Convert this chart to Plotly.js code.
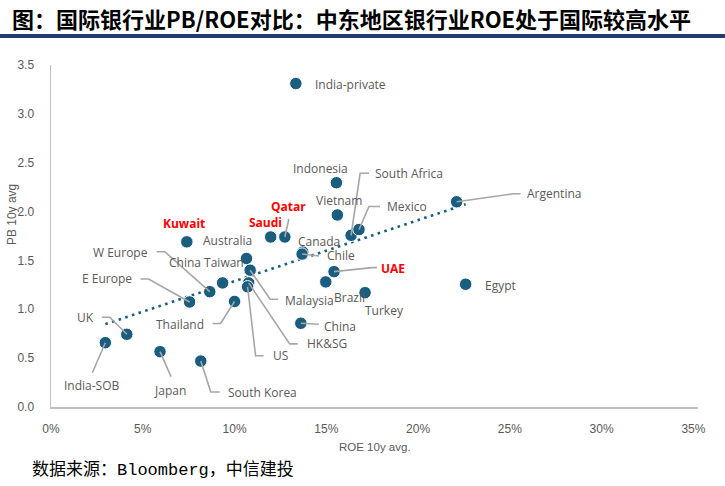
<!DOCTYPE html>
<html>
<head>
<meta charset="utf-8">
<script src="https://cdn.plot.ly/plotly-3.0.1.min.js"></script>
<style>
  html, body { margin: 0; padding: 0; background: #fff; }
  #chart { width: 725px; height: 486px; }
</style>
</head>
<body>
<div id="chart"></div>
<script>
// Bank sector 10-year averages: ROE (%) vs price-to-book
const countries = ['India-private','Indonesia','Vietnam','South Africa','Mexico','Argentina',
  'Qatar','Saudi','Kuwait','Australia','Canada','Chile','UAE','Brazil','Turkey','Egypt',
  'China','China Taiwan','Malaysia','HK&SG','US','W Europe','E Europe','Thailand','UK',
  'India-SOB','Japan','South Korea'];
const roe = [13.34, 15.55, 15.60, 16.35, 16.78, 22.10,
  12.74, 11.97, 7.40, 10.65, 13.72, 13.68, 15.42, 14.97, 17.11, 22.59,
  13.61, 9.35, 10.85, 10.77, 10.71, 8.65, 7.55, 10.00, 4.13,
  2.96, 5.94, 8.16];
const pb = [3.31, 2.295, 1.965, 1.757, 1.816, 2.10,
  1.74, 1.74, 1.69, 1.52, 1.585, 1.565, 1.385, 1.28, 1.17, 1.256,
  0.857, 1.27, 1.40, 1.27, 1.23, 1.18, 1.075, 1.08, 0.744,
  0.658, 0.566, 0.47];
const highlighted = ['Kuwait', 'Saudi', 'Qatar', 'UAE'];
const xTicks = [0, 5, 10, 15, 20, 25, 30, 35];
const xTickText = ['0%', '5%', '10%', '15%', '20%', '25%', '30%', '35%'];
const yTicks = [0, 0.5, 1, 1.5, 2, 2.5, 3, 3.5];

// Label placement: offsets in screen pixels from the marker (y grows downward),
// with optional elbow leader lines.
const placement = {
  'India-private': {dx: 17, dy: 1, anchor: 'left'},
  'Indonesia':     {dx: -16, dy: -14, anchor: 'center'},
  'Vietnam':       {dx: 2, dy: -14, anchor: 'center'},
  'South Africa':  {dx: 22, dy: -62, anchor: 'left', leader: [[0,0],[9,-62],[18,-62]]},
  'Mexico':        {dx: 26, dy: -23, anchor: 'left', leader: [[0,0],[10,-23],[21,-23]]},
  'Argentina':     {dx: 68, dy: -8, anchor: 'left', leader: [[0,0],[57,-8],[64,-8]]},
  'Qatar':         {dx: 4, dy: -30, anchor: 'center', leader: [[0,0],[4,-18]]},
  'Saudi':         {dx: -5, dy: -14, anchor: 'center'},
  'Kuwait':        {dx: -3, dy: -18, anchor: 'center'},
  'Australia':     {dx: -19, dy: -18, anchor: 'center'},
  'Canada':        {dx: 16, dy: -11, anchor: 'center'},
  'Chile':         {dx: 39, dy: 1, anchor: 'center', leader: [[0,0],[17,2]]},
  'UAE':           {dx: 45, dy: -3, anchor: 'left', leader: [[0,0],[38,-4],[43,-4]]},
  'Brazil':        {dx: 24, dy: 16, anchor: 'center'},
  'Turkey':        {dx: 19, dy: 18, anchor: 'center'},
  'Egypt':         {dx: 17, dy: 1, anchor: 'left'},
  'China':         {dx: 21, dy: 3, anchor: 'left', leader: [[0,0],[18,1]]},
  'China Taiwan':  {dx: -16, dy: -20, anchor: 'center'},
  'Malaysia':      {dx: 33, dy: 30, anchor: 'left', leader: [[0,0],[20,29],[28,29]]},
  'HK&SG':         {dx: 56, dy: 61, anchor: 'left', leader: [[0,0],[41,61],[49,61]]},
  'US':            {dx: 23, dy: 69, anchor: 'left', leader: [[0,0],[8,69],[16,69]]},
  'W Europe':      {dx: -60, dy: -39, anchor: 'right', leader: [[0,0],[-45,-40],[-53,-40]]},
  'E Europe':      {dx: -56, dy: -23, anchor: 'right', leader: [[0,0],[-41,-23],[-49,-23]]},
  'Thailand':      {dx: -29, dy: 23, anchor: 'right', leader: [[0,0],[-14,22],[-22,22]]},
  'UK':            {dx: -31, dy: -17, anchor: 'right', leader: [[0,0],[-17,-17],[-25,-17]]},
  'India-SOB':     {dx: -13, dy: 43, anchor: 'center', leader: [[0,0],[-13,30]]},
  'Japan':         {dx: 10, dy: 39, anchor: 'center', leader: [[0,0],[11,25]]},
  'South Korea':   {dx: 25, dy: 31, anchor: 'left', leader: [[0,0],[10,31],[19,31]]}
};

const markerColor = '#1b5d7f';
const labelColor = '#595959';
const leaderColor = '#a6a6a6';

// Least-squares trend line across all markets
const n = roe.length;
const mx = roe.reduce((a, b) => a + b, 0) / n;
const my = pb.reduce((a, b) => a + b, 0) / n;
let sxy = 0, sxx = 0;
for (let i = 0; i < n; i++) {
  sxy += (roe[i] - mx) * (pb[i] - my);
  sxx += (roe[i] - mx) * (roe[i] - mx);
}
const slope = sxy / sxx;
const intercept = my - slope * mx;
const xMin = Math.min(...roe), xMax = Math.max(...roe);

const traces = [
  {
    x: [xMin, xMax],
    y: [intercept + slope * xMin, intercept + slope * xMax],
    mode: 'lines',
    line: {color: markerColor, width: 2.6, dash: '2.6px,4.4px'},
    hoverinfo: 'skip',
    showlegend: false
  },
  {
    x: roe,
    y: pb,
    mode: 'markers',
    marker: {size: 12.5, color: markerColor, line: {color: '#ffffff', width: 1}},
    text: countries,
    hoverinfo: 'text',
    showlegend: false
  }
];

const annotations = [];
const shapes = [];

countries.forEach((name, i) => {
  const p = placement[name];
  const hot = highlighted.includes(name);
  annotations.push({
    x: roe[i], y: pb[i], xref: 'x', yref: 'y',
    text: hot ? '<b>' + name + '</b>' : name,
    showarrow: false,
    xanchor: p.anchor, yanchor: 'middle',
    xshift: p.dx, yshift: -p.dy,
    font: {family: 'Open Sans, sans-serif', size: 12, color: hot ? '#ff0000' : labelColor}
  });
  if (p.leader) {
    const path = p.leader.map((pt, k) => (k ? 'L' : 'M') + pt[0] + ',' + (-pt[1])).join(' ');
    shapes.push({
      type: 'path', xref: 'x', yref: 'y',
      xsizemode: 'pixel', ysizemode: 'pixel',
      xanchor: roe[i], yanchor: pb[i],
      path: path,
      line: {color: leaderColor, width: 1.6}
    });
  }
});

// Heading, rule beneath it, axis titles and source note
annotations.push({
  xref: 'paper', yref: 'paper', x: -0.0634, y: 1.137,
  xanchor: 'left', yanchor: 'middle', showarrow: false,
  text: '<b>图：国际银行业PB/ROE对比：中东地区银行业ROE处于国际较高水平</b>',
  font: {family: 'Noto Sans CJK SC, sans-serif', size: 22, color: '#000000'}
});
shapes.push({
  type: 'rect', xref: 'paper', yref: 'paper',
  x0: -0.0788, x1: 1.0417, y0: 1.0789, y1: 1.0906,
  fillcolor: '#1f3b6f', line: {width: 0}
});
annotations.push({
  xref: 'paper', yref: 'paper', x: 0.5, y: -0.117,
  xanchor: 'center', yanchor: 'middle', showarrow: false,
  text: 'ROE 10y avg.',
  font: {family: 'Liberation Sans, sans-serif', size: 11.5, color: labelColor}
});
annotations.push({
  xref: 'paper', yref: 'paper', x: -0.0603, y: 0.564,
  xanchor: 'center', yanchor: 'middle', showarrow: false, textangle: -90,
  text: 'PB 10y avg',
  font: {family: 'Liberation Sans, sans-serif', size: 12, color: labelColor}
});
annotations.push({
  xref: 'paper', yref: 'paper', x: -0.0325, y: -0.184,
  xanchor: 'left', yanchor: 'middle', showarrow: false,
  text: '数据来源：Bloomberg，中信建投',
  font: {family: 'Liberation Mono, Noto Sans CJK SC, monospace', size: 17, color: '#000000'}
});

const layout = {
  width: 725, height: 486,
  margin: {l: 51, r: 27, t: 65, b: 79},
  paper_bgcolor: '#ffffff', plot_bgcolor: '#ffffff',
  showlegend: false,
  xaxis: {
    range: [0, 35.25],
    tickvals: xTicks, ticktext: xTickText,
    showgrid: false, zeroline: false,
    showline: true, linecolor: '#bfbfbf', linewidth: 1.5,
    ticks: 'outside', ticklen: 10, tickcolor: 'rgba(0,0,0,0)',
    tickfont: {family: 'Liberation Sans, sans-serif', size: 12, color: labelColor}
  },
  yaxis: {
    range: [0, 3.5],
    tickvals: yTicks, tickformat: '.1f',
    showgrid: false, zeroline: false,
    showline: true, linecolor: '#bfbfbf', linewidth: 1.5,
    ticks: 'outside', ticklen: 13, tickcolor: 'rgba(0,0,0,0)',
    tickfont: {family: 'Liberation Sans, sans-serif', size: 12, color: labelColor}
  },
  annotations: annotations,
  shapes: shapes
};

Plotly.newPlot('chart', traces, layout, {displayModeBar: false, staticPlot: true});
</script>
</body>
</html>
